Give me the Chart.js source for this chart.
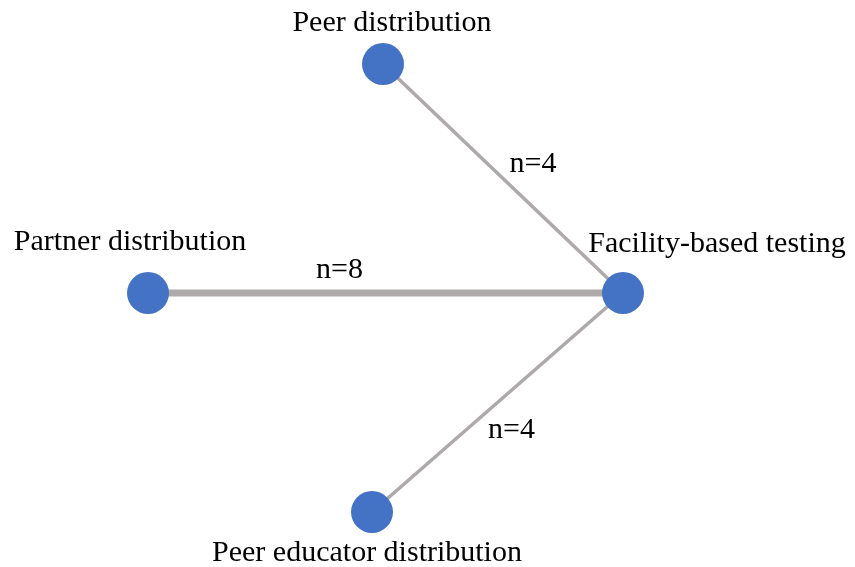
<!DOCTYPE html>
<html>
<head>
<meta charset="utf-8">
<script src="https://cdn.jsdelivr.net/npm/chart.js@4"></script>
<style>
  html, body { margin: 0; padding: 0; background: #fff; }
  #wrap { width: 855px; height: 567px; }
</style>
</head>
<body>
<div id="wrap"><canvas id="net"></canvas></div>
<script>
// nodes of the network
const nodeNames = ['Peer distribution', 'Facility-based testing', 'Partner distribution', 'Peer educator distribution'];
const nodeX = [383, 623, 148, 372];
const nodeY = [64, 293, 293, 512];

// edges: from, to, number of studies
const edgeFrom = [0, 2, 3];
const edgeTo = [1, 1, 1];
const edgeN = [4, 8, 4];

// where the text goes relative to the node / edge midpoint
const nodeLabelDx = [9, 94, -18, -5];
const nodeLabelDy = [-41, -49, -51, 41];
const edgeLabelDx = [30, -46, 14];
const edgeLabelDy = [-14, -23, 28];

const nodeColor = '#4472C4';
const edgeColor = 'rgb(174,170,170)';
const font = '"Liberation Serif", "Times New Roman", serif';

const datasets = [];
edgeFrom.forEach(function (f, i) {
    const t = edgeTo[i];
    datasets.push({
        label: 'edge' + i,
        data: [{x: nodeX[f], y: nodeY[f]}, {x: nodeX[t], y: nodeY[t]}],
        showLine: true,
        borderColor: edgeColor,
        borderWidth: edgeN[i] * 0.9,
        pointRadius: 0,
        order: 2
    });
});
datasets.push({
    label: 'nodes',
    data: nodeNames.map(function (n, i) { return {x: nodeX[i], y: nodeY[i]}; }),
    pointRadius: 21,
    pointBackgroundColor: nodeColor,
    pointBorderColor: nodeColor,
    pointBorderWidth: 0,
    order: 1
});

const labelPlugin = {
    id: 'labels',
    afterDatasetsDraw: function (chart) {
        const ctx = chart.ctx;
        const xs = chart.scales.x, ys = chart.scales.y;
        ctx.save();
        ctx.fillStyle = '#000';
        ctx.font = '30px ' + font;
        ctx.textAlign = 'center';
        ctx.textBaseline = 'middle';
        nodeNames.forEach(function (n, i) {
            ctx.fillText(n, xs.getPixelForValue(nodeX[i]) + nodeLabelDx[i], ys.getPixelForValue(nodeY[i]) + nodeLabelDy[i]);
        });
        edgeN.forEach(function (n, i) {
            const mx = (nodeX[edgeFrom[i]] + nodeX[edgeTo[i]]) / 2;
            const my = (nodeY[edgeFrom[i]] + nodeY[edgeTo[i]]) / 2;
            ctx.fillText('n=' + n, xs.getPixelForValue(mx) + edgeLabelDx[i], ys.getPixelForValue(my) + edgeLabelDy[i]);
        });
        ctx.restore();
    }
};

new Chart(document.getElementById('net'), {
    type: 'scatter',
    data: { datasets: datasets },
    options: {
        responsive: true,
        maintainAspectRatio: false,
        animation: false,
        layout: { padding: 0, autoPadding: false },
        plugins: { legend: { display: false }, tooltip: { enabled: false } },
        scales: {
            x: { type: 'linear', min: 0, max: 855, display: false },
            y: { type: 'linear', min: 0, max: 567, reverse: true, display: false }
        }
    },
    plugins: [labelPlugin]
});
</script>
</body>
</html>
